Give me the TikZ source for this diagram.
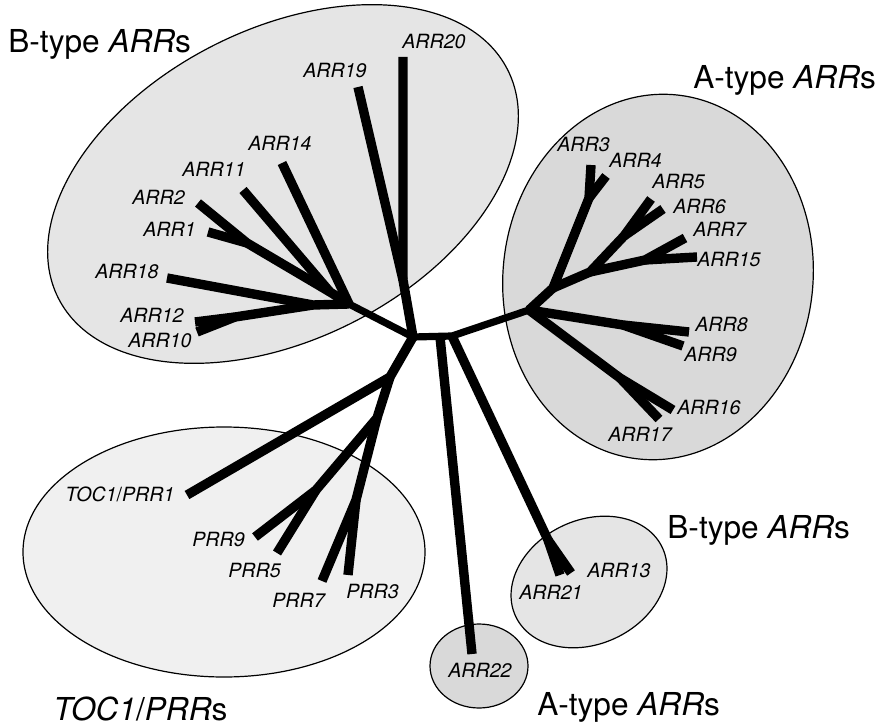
\documentclass[tikz,border=0pt]{standalone}
\usepackage{fontspec}
\setmainfont{TeX Gyre Heros}
\usetikzlibrary{shapes.geometric}

\begin{document}
\begin{tikzpicture}[
  x=0.5pt, y=-0.5pt,
  grp/.style={ellipse, draw, line width=0.6pt, inner sep=0pt},
  leaf/.style={font=\fontsize{9.8}{11}\selectfont\itshape, inner sep=0pt, anchor=base west},
  title/.style={font=\fontsize{15.8}{18}\selectfont, inner sep=0pt, anchor=base west},
  branch/.style={line width=4.7pt, line join=round},
  stem/.style={line width=3.6pt, line cap=round, line join=round}
]
\useasboundingbox (0,0) rectangle (881,726);

\node[grp, fill=gray!20, minimum width=252pt, minimum height=155pt, rotate=27] (bgrp) at (283,184) {};
\node[grp, fill=gray!30, minimum width=155pt, minimum height=183pt, rotate=-6] (agrp) at (658,277) {};
\node[grp, fill=gray!12, minimum width=201pt, minimum height=125pt] (tocgrp) at (224,552) {};
\node[grp, fill=gray!20, minimum width=81pt, minimum height=62pt, rotate=25] (bsmall) at (589,582) {};
\node[grp, fill=gray!30, minimum width=49pt, minimum height=42pt] (asmall) at (479,666) {};

\coordinate (r1) at (413,337);
\coordinate (r2) at (440,337);
\coordinate (r3) at (452,336);

\coordinate (b0) at (349,304);
\coordinate (b1920) at (403,280);
\coordinate (b112) at (330,292);
\coordinate (b12) at (247,243);
\coordinate (b1810) at (313,305);
\coordinate (b1012) at (235,317);
\coordinate (e20) at (403,57);
\coordinate (e19) at (358,87);
\coordinate (e14) at (282,163);
\coordinate (e11) at (243,190);
\coordinate (e2) at (198,203);
\coordinate (e1) at (208,232);
\coordinate (e18) at (167,278);
\coordinate (e12) at (195,322);
\coordinate (e10) at (197,332);

\coordinate (a0) at (529,310);
\coordinate (a1) at (553,288);
\coordinate (a34) at (589,198);
\coordinate (a2) at (590,272);
\coordinate (a56) at (624,236);
\coordinate (a715) at (645,260);
\coordinate (a89) at (623,325);
\coordinate (a1617) at (620,378);
\coordinate (e3) at (591,165);
\coordinate (e4) at (606,176);
\coordinate (e5) at (651,199);
\coordinate (e6) at (663,209);
\coordinate (e7) at (685,238);
\coordinate (e15) at (697,257);
\coordinate (e8) at (689,332);
\coordinate (e9) at (683,346);
\coordinate (e16) at (673,410);
\coordinate (e17) at (659,419);

\coordinate (p0) at (390,377);
\coordinate (p1) at (377,418);
\coordinate (p95) at (316,490);
\coordinate (p73) at (356,500);
\coordinate (etoc) at (187,495);
\coordinate (ep9) at (255,537);
\coordinate (ep5) at (277,553);
\coordinate (ep7) at (322,581);
\coordinate (ep3) at (348,575);

\coordinate (n1321) at (548,540);
\coordinate (e21) at (560,575);
\coordinate (e13) at (571,573);
\coordinate (e22) at (472,654);

\draw[stem] (b0) -- (r1) -- (r3) -- (a0);
\draw[stem] (r1) -- (p0);

\draw[branch] (r1) -- (b1920) -- (e20);
\draw[branch] (b1920) -- (e19);
\draw[branch] (b0) -- (e14);
\draw[branch] (b0) -- (b112) -- (e11);
\draw[branch] (b112) -- (b12) -- (e2);
\draw[branch] (b12) -- (e1);
\draw[branch] (b0) -- (b1810) -- (e18);
\draw[branch] (b1810) -- (b1012) -- (e12);
\draw[branch] (b1012) -- (e10);

\draw[branch] (a0) -- (a1) -- (a34) -- (e3);
\draw[branch] (a34) -- (e4);
\draw[branch] (a1) -- (a2) -- (a56) -- (e5);
\draw[branch] (a56) -- (e6);
\draw[branch] (a2) -- (a715) -- (e7);
\draw[branch] (a715) -- (e15);
\draw[branch] (a0) -- (a89) -- (e8);
\draw[branch] (a89) -- (e9);
\draw[branch] (a0) -- (a1617) -- (e16);
\draw[branch] (a1617) -- (e17);

\draw[branch] (r1) -- (p0) -- (etoc);
\draw[branch] (p0) -- (p1) -- (p95) -- (ep9);
\draw[branch] (p95) -- (ep5);
\draw[branch] (p1) -- (p73) -- (ep7);
\draw[branch] (p73) -- (ep3);

\draw[branch] (r3) -- (n1321) -- (e21);
\draw[branch] (n1321) -- (e13);
\draw[branch] (r2) -- (e22);

\node[leaf] (arr20) at (402,49) {ARR20};
\node[leaf] (arr19) at (303,78) {ARR19};
\node[leaf] (arr14) at (248,151) {ARR14};
\node[leaf] (arr11) at (182,177) {ARR11};
\node[leaf] (arr2) at (132,205) {ARR2};
\node[leaf] (arr1) at (143,237) {ARR1};
\node[leaf] (arr18) at (95,279) {ARR18};
\node[leaf] (arr12) at (120,323) {ARR12};
\node[leaf] (arr10) at (128,348) {ARR10};

\node[leaf] (arr3) at (557,152) {ARR3};
\node[leaf] (arr4) at (609,168) {ARR4};
\node[leaf] (arr5) at (652,189) {ARR5};
\node[leaf] (arr6) at (673,214) {ARR6};
\node[leaf] (arr7) at (693,237) {ARR7};
\node[leaf] (arr15) at (697,267) {ARR15};
\node[leaf] (arr8) at (695,332) {ARR8};
\node[leaf] (arr9) at (684,361) {ARR9};
\node[leaf] (arr16) at (677,414) {ARR16};
\node[leaf] (arr17) at (608,441) {ARR17};

\node[leaf] (toc1) at (65,501) {TOC1\textup{/}PRR1};
\node[leaf] (prr9) at (192,546) {PRR9};
\node[leaf] (prr5) at (228,577) {PRR5};
\node[leaf] (prr7) at (272,607) {PRR7};
\node[leaf] (prr3) at (346,598) {PRR3};

\node[leaf] (arr13) at (587,577) {ARR13};
\node[leaf] (arr21) at (519,599) {ARR21};
\node[leaf] (arr22) at (448,677) {ARR22};

\node[title] (btop) at (8,53) {B-type \textit{ARR}s};
\node[title] (atop) at (693,89) {A-type \textit{ARR}s};
\node[title] (bbot) at (667,538) {B-type \textit{ARR}s};
\node[title] (abot) at (537,715) {A-type \textit{ARR}s};
\node[title] (tocbot) at (53,720) {\textit{TOC1}/\textit{PRR}s};
\end{tikzpicture}
\end{document}
